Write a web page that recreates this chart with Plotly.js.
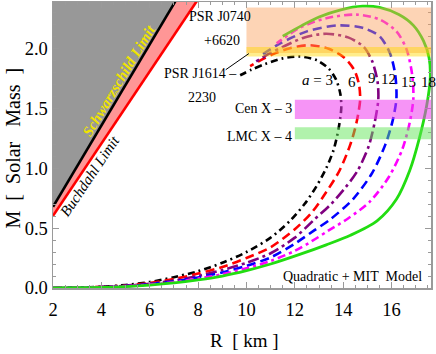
<!DOCTYPE html>
<html>
<head>
<meta charset="utf-8">
<script src="https://cdn.plot.ly/plotly-3.0.1.min.js"></script>
<style>html,body{margin:0;padding:0;background:#fff}#chart{width:436px;height:354px}</style>
</head>
<body>
<div id="chart"></div>
<script>
// ---- Data ----
const curveLabels = ["a = 3", "a = 6", "a = 9", "a = 12", "a = 15", "a = 18"];

const r_a3 = [2,3,4,5,6,7,8,9,10,11,11.8,12.4,12.9,13.3,13.6,13.8,13.92,13.88,13.7,13.4,12.9,12.2,11.5,10.8,10.2,9.6];
const m_a3 = [0,0.003,0.01,0.025,0.05,0.09,0.14,0.21,0.30,0.42,0.56,0.70,0.85,1.0,1.15,1.32,1.50,1.62,1.74,1.83,1.90,1.93,1.915,1.87,1.82,1.76];

const r_a6 = [2,3,4,5,6,7,8,9,10,11,12,12.7,13.3,13.85,14.3,14.55,14.7,14.65,14.45,14.05,13.4,12.6,11.8,11.1,10.5,10.15];
const m_a6 = [0,0.003,0.009,0.02,0.042,0.075,0.12,0.175,0.25,0.34,0.49,0.63,0.80,0.98,1.20,1.38,1.57,1.70,1.82,1.92,1.995,2.025,2.0,1.95,1.89,1.85];

const r_a9 = [2,3,4,5,6,7,8,9,10,11,12,12.8,13.5,14.1,14.6,15.05,15.3,15.45,15.42,15.2,14.85,14.2,13.3,12.4,11.6,11.0,10.4];
const m_a9 = [0,0.0025,0.008,0.018,0.036,0.062,0.10,0.15,0.21,0.29,0.42,0.57,0.70,0.84,0.98,1.18,1.38,1.57,1.72,1.89,2.01,2.09,2.12,2.09,2.02,1.96,1.89];

const r_a12 = [2,3,4,5,6,7,8,9,10,11,12,12.8,13.45,14.4,15.2,15.75,16.05,16.2,16.15,15.93,15.5,14.8,13.8,12.5,11.4,10.6];
const m_a12 = [0,0.002,0.007,0.016,0.032,0.055,0.088,0.13,0.185,0.255,0.37,0.48,0.57,0.74,0.96,1.20,1.40,1.58,1.78,1.96,2.10,2.17,2.19,2.14,2.04,1.94];

const r_a15 = [2,3,4,5,6,7,8,9,10,11,12,12.7,13.4,14.2,15.1,15.9,16.45,16.75,16.9,16.85,16.62,16.2,15.5,14.55,13.3,12.2,11.25];
const m_a15 = [0,0.002,0.006,0.014,0.028,0.048,0.078,0.115,0.165,0.225,0.31,0.39,0.48,0.58,0.72,0.93,1.16,1.38,1.58,1.78,1.99,2.14,2.24,2.28,2.25,2.17,2.04];

const r_a18 = [2,3,4,5,6,7,8,9,10,11,12.2,13.3,14.3,15.4,16.2,16.75,17.15,17.45,17.6,17.55,17.32,16.9,16.3,15.5,14.8,13.9,13.0,12.3,11.5];
const m_a18 = [0,0.002,0.005,0.012,0.024,0.042,0.068,0.10,0.145,0.20,0.28,0.36,0.44,0.56,0.74,0.98,1.25,1.52,1.75,1.92,2.06,2.19,2.28,2.34,2.35,2.32,2.26,2.19,2.10];

// limit lines
const schwR = [2, 7.5];
const schwM = [0.677, 2.540];
const buchR = [2, 8.5];
const buchM = [0.602, 2.559];

// observational mass bands
const bandNames = ["PSR J0740+6620", "PSR J1614-2230", "Cen X-3", "LMC X-4"];
const bandLow   = [1.96, 1.93, 1.41, 1.24];
const bandHigh  = [2.34, 2.01, 1.57, 1.34];
const bandRmin  = [10, 10, 12, 12];

const xTickVals = [2,4,6,8,10,12,14,16];
const yTickVals = [0.0,0.5,1.0,1.5,2.0];
// ------------------------------------------------

const XMAX = 17.63, YMAX = 2.385;
const serif = "Liberation Serif, Times New Roman, serif";

const styles = [
  {color:"#000000", dash:"7px,4px,2px,4px", width:2.6},
  {color:"#ff0000", dash:"9px,5px", width:2.6},
  {color:"#800080", dash:"11px,4px,3px,4px", width:2.6},
  {color:"#0000ff", dash:"9px,5px", width:2.6},
  {color:"#ff00ff", dash:"8px,4px,3px,4px", width:2.6},
  {color:"#22dd11", dash:"solid", width:2.8}
];
const Rs = [r_a3, r_a6, r_a9, r_a12, r_a15, r_a18];
const Ms = [m_a3, m_a6, m_a9, m_a12, m_a15, m_a18];

const traces = [];
traces.push({x:[schwR[0], schwR[1], schwR[0]], y:[schwM[0], schwM[1], schwM[1]],
  mode:"lines", fill:"toself", fillcolor:"rgb(152,152,152)", line:{width:0}, hoverinfo:"skip", showlegend:false});
traces.push({x:[schwR[0], schwR[1], buchR[1], buchR[0]], y:[schwM[0], schwM[1], buchM[1], buchM[0]],
  mode:"lines", fill:"toself", fillcolor:"rgb(255,150,150)", line:{width:0}, hoverinfo:"skip", showlegend:false});
traces.push({x:schwR, y:schwM, mode:"lines", line:{color:"#000", width:2.6}, showlegend:false});
traces.push({x:buchR, y:buchM, mode:"lines", line:{color:"#ff0000", width:2.6}, showlegend:false});

for (let i=0;i<Rs.length;i++){
  traces.push({x:Rs[i], y:Ms[i], mode:"lines", name:curveLabels[i],
    line:{color:styles[i].color, dash:styles[i].dash, width:styles[i].width, shape:"spline", smoothing:0.8},
    showlegend:false});
}

const bandColors = ["rgba(250,160,90,0.45)", "rgba(255,215,0,0.45)", "rgba(238,60,238,0.55)", "rgba(100,230,90,0.5)"];
const shapes = bandNames.map((n,i)=>({type:"rect", xref:"x", yref:"y", x0:bandRmin[i], x1:XMAX,
  y0:bandLow[i], y1:bandHigh[i], fillcolor:bandColors[i], line:{width:0}, layer:"above"}));
shapes.push({type:"line", xref:"x", yref:"y", x0:9.14, y0:1.82, x1:10.1, y1:1.955, line:{color:"#000", width:1}});

const af = (s)=>({family:serif, size:s, color:"#000"});
const annotations = [
  {x:4.73, y:1.723, text:"<b><i>Schwarzschild Limit</i></b>", textangle:-59, font:{family:serif, size:15, color:"#f0e400"}},
  {x:3.52, y:0.935, text:"<i>Buchdahl Limit</i>", textangle:-56, font:af(15)},
  {x:8.89, y:2.26, text:"PSR J0740", font:af(14)},
  {x:8.98, y:2.06, text:"+6620", font:af(14)},
  {x:8.11, y:1.79, text:"PSR J1614 \u2013", font:af(14)},
  {x:8.15, y:1.59, text:"2230", font:af(14)},
  {x:12.95, y:1.736, text:"<i>a</i> = 3", font:af(15)},
  {x:14.35, y:1.72, text:"6", font:af(15)},
  {x:15.19, y:1.75, text:"9", font:af(15)},
  {x:15.86, y:1.744, text:"12", font:af(15)},
  {x:16.69, y:1.715, text:"15", font:af(15)},
  {x:17.52, y:1.715, text:"18", font:af(15)},
  {x:11.98, y:1.494, xanchor:"right", text:"Cen X \u2013 3", font:af(14)},
  {x:11.98, y:1.265, xanchor:"right", text:"LMC X \u2013 4", font:af(14)},
  {x:17.32, y:0.10, xanchor:"right", text:"Quadratic + MIT \u00a0Model", font:af(14)},
  {xref:"paper", yref:"paper", x:0.506, y:-0.185, xanchor:"center", yanchor:"middle", text:"R \u00a0[ km ]", font:af(19)},
  {xref:"paper", yref:"paper", x:-0.107, y:0.49, xanchor:"center", yanchor:"middle", textangle:-90, text:"M \u00a0[ \u00a0Solar \u00a0\u00a0Mass \u00a0]", font:af(20)}
].map(a=>Object.assign({showarrow:false, xref:"x", yref:"y"}, a));

const axisCommon = {
  showline:true, linecolor:"#9a9a9a", linewidth:1.5, mirror:"ticks",
  ticks:"inside", ticklen:6, tickwidth:1, tickcolor:"#9a9a9a",
  showgrid:false, zeroline:false, tickfont:{family:serif, size:18.5, color:"#000"}
};

const layout = {
  width:436, height:354,
  margin:{l:53, r:5, t:2, b:66},
  paper_bgcolor:"#fff", plot_bgcolor:"#fff",
  showlegend:false,
  xaxis:Object.assign({}, axisCommon, {range:[2, XMAX], tickvals:xTickVals, ticklabelstandoff:4,
    minor:{dtick:0.5, tick0:2, ticks:"inside", ticklen:3, tickcolor:"#9a9a9a", showgrid:false}}),
  yaxis:Object.assign({}, axisCommon, {range:[0, YMAX], tickvals:yTickVals, tickformat:".1f",
    minor:{dtick:0.1, tick0:0, ticks:"inside", ticklen:3, tickcolor:"#9a9a9a", showgrid:false}}),
  shapes:shapes,
  annotations:annotations
};

Plotly.newPlot("chart", traces, layout, {displayModeBar:false, staticPlot:true});
</script>
</body>
</html>
